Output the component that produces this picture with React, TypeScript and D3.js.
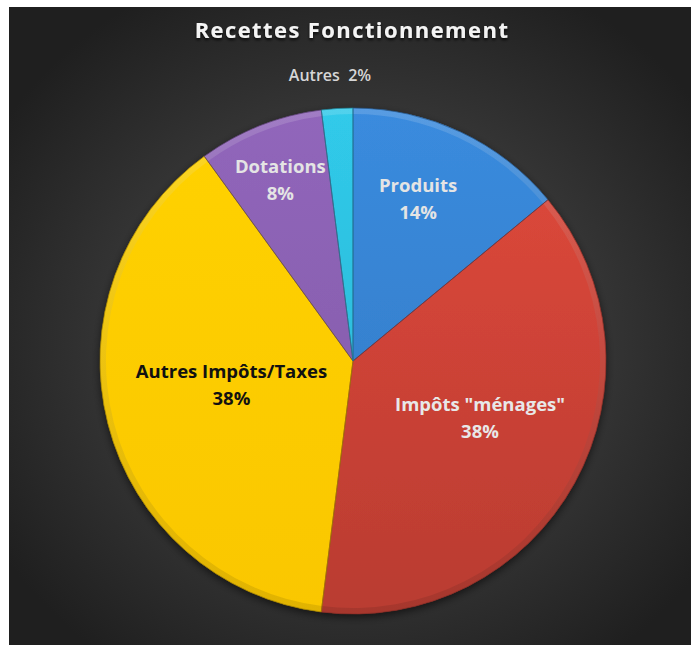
import React from 'react'
import * as d3 from 'd3'

// chart values
const categories = ['Produits', 'Impôts "ménages"', 'Autres Impôts/Taxes', 'Dotations', 'Autres']
const shares = [14, 38, 38, 8, 2]
const labelTexts = ['14%', '38%', '38%', '8%', '2%']
const sliceColors = ['#3886d6', '#d9463a', '#ffcb00', '#8c62b4', '#2ec3e2']
const title = 'Recettes Fonctionnement'

// label placement (fraction of radius, angular nudge in degrees)
const labelRadius = [0.69, 0.55, 0.49, 0.77, 1.135]
const labelNudge = [-3.3, -4.7, 3.1, -0.3, -1]
const labelInk = ['#e4e4e4', '#e8e8e8', '#111111', '#e4e4e4', '#d6d6d6']
const shade = [0.3, 0.45, 0.05, 0.25, 0.25]

const width = 691
const height = 645
const cx = 353
const cy = 361
const radius = 253

const App = () => {
    const pie = d3.pie<number>().sort(null).value(d => d)
    const arcs = pie(shares)
    const arc = d3.arc<d3.PieArcDatum<number>>().innerRadius(0).outerRadius(radius)
    const rim = d3.arc<d3.PieArcDatum<number>>().innerRadius(radius - 6).outerRadius(radius)

    const labelPoint = (i: number) => {
        const a = (arcs[i].startAngle + arcs[i].endAngle) / 2 + labelNudge[i] * Math.PI / 180
        const rr = labelRadius[i] * radius
        return [rr * Math.sin(a), -rr * Math.cos(a)]
    }

    const font = '"Open Sans", "Noto Sans", sans-serif'

    return (
        <svg width={width} height={height} style={{ position: 'absolute', left: 0, top: 0 }}>
            <defs>
                <radialGradient id="bg" cx="51%" cy="52%" r="62%">
                    <stop offset="0%" stopColor="#474747" />
                    <stop offset="55%" stopColor="#363636" />
                    <stop offset="100%" stopColor="#1f1f1f" />
                </radialGradient>
                {sliceColors.map((c, i) => (
                    <linearGradient key={i} id={`sl${i}`} gradientUnits="userSpaceOnUse"
                        x1={0} y1={-radius} x2={0} y2={radius}>
                        <stop offset="0%" stopColor={d3.color(c)!.brighter(0.1).formatHex()} />
                        <stop offset="100%" stopColor={d3.color(c)!.darker(shade[i]).formatHex()} />
                    </linearGradient>
                ))}
                <linearGradient id="rimGrad" gradientUnits="userSpaceOnUse" x1={0} y1={-radius} x2={0} y2={radius}>
                    <stop offset="0%" stopColor="#ffffff" stopOpacity={0.15} />
                    <stop offset="100%" stopColor="#000000" stopOpacity={0.1} />
                </linearGradient>
                <filter id="shadow" x="-20%" y="-20%" width="140%" height="140%">
                    <feDropShadow dx="0" dy="3" stdDeviation="4" floodColor="#000" floodOpacity="0.6" />
                </filter>
                <filter id="tshadow" x="-10%" y="-30%" width="120%" height="160%">
                    <feDropShadow dx="0" dy="2" stdDeviation="1.5" floodColor="#000" floodOpacity="0.8" />
                </filter>
            </defs>
            <rect x={0} y={0} width={width} height={height} fill="#ffffff" />
            <rect x={9} y={7} width={width - 9} height={height - 7} fill="url(#bg)" />

            <text x={352} y={38} textAnchor="middle" fill="#f4f4f4" fontFamily={font}
                fontWeight={700} fontSize={22} letterSpacing={1.4} filter="url(#tshadow)">
                {title}
            </text>

            <g transform={`translate(${cx},${cy})`}>
                <g filter="url(#shadow)">
                    {arcs.map((a, i) => (
                        <path key={i} d={arc(a) || ''} fill={`url(#sl${i})`} />
                    ))}
                </g>
                {arcs.map((a, i) => (
                    <path key={`r${i}`} d={rim(a) || ''} fill="url(#rimGrad)" />
                ))}
                {arcs.map((a, i) => (
                    <path key={`s${i}`} d={arc(a) || ''} fill="none"
                        stroke={d3.color(sliceColors[i])!.darker(1.2).formatHex()} strokeWidth={1} strokeOpacity={0.7} />
                ))}
                {arcs.map((a, i) => {
                    const [lx, ly] = labelPoint(i)
                    if (i === 4) {
                        return (
                            <text key={`l${i}`} x={lx} y={ly + 6} textAnchor="middle" fill={labelInk[i]}
                                fontFamily={font} fontWeight={600} fontSize={16}>
                                {categories[i]}{'\u00a0\u00a0'}{labelTexts[i]}
                            </text>
                        )
                    }
                    return (
                        <text key={`l${i}`} textAnchor="middle" fill={labelInk[i]}
                            fontFamily={font} fontWeight={700} fontSize={18.5}>
                            <tspan x={lx} y={ly - 7}>{categories[i]}</tspan>
                            <tspan x={lx} y={ly + 20}>{labelTexts[i]}</tspan>
                        </text>
                    )
                })}
            </g>
        </svg>
    )
}

export default App
